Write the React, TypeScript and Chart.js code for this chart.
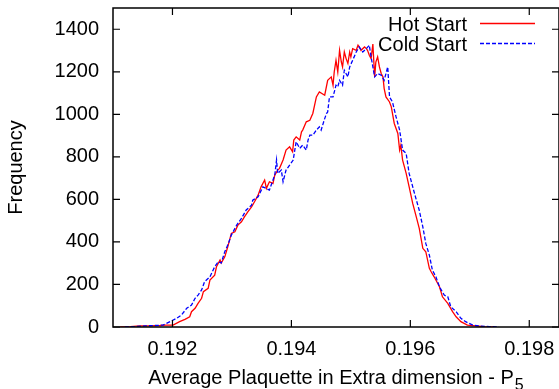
import React, { useEffect, useRef } from "react";
import { Chart, registerables } from "chart.js";

Chart.register(...registerables);

const xTicks = [0.192, 0.194, 0.196, 0.198];
const yTicks = [0, 200, 400, 600, 800, 1000, 1200, 1400];
const seriesNames = ["Hot Start", "Cold Start"];
const xTitle = "Average Plaquette in Extra dimension - P";
const xTitleSub = "5";
const yTitle = "Frequency";

// [average plaquette, frequency]
const hotStart: [number, number][] = [
  [0.19112, 0], [0.19129, 2], [0.19145, 5], [0.19162, 5], [0.19179, 7], [0.19189, 9], [0.19201, 9],
  [0.19212, 25], [0.19221, 36], [0.19229, 48], [0.19232, 72], [0.19238, 88], [0.19243, 111],
  [0.19249, 135], [0.19252, 166], [0.1926, 182], [0.19263, 221], [0.19271, 244], [0.19274, 283],
  [0.1928, 315], [0.19282, 301], [0.19288, 330], [0.19293, 377], [0.19299, 440], [0.19305, 448],
  [0.1931, 479], [0.19316, 495], [0.19321, 518], [0.19327, 542], [0.19333, 565], [0.19338, 589],
  [0.19344, 620], [0.19349, 659], [0.19355, 691], [0.19358, 652], [0.19363, 683], [0.19369, 675],
  [0.19372, 714], [0.19377, 738], [0.1938, 746], [0.19386, 785], [0.19391, 832], [0.19397, 847],
  [0.19402, 824], [0.19404, 879], [0.19408, 894], [0.19414, 879], [0.19417, 918], [0.19419, 926],
  [0.19425, 965], [0.19431, 972], [0.19436, 1004], [0.19442, 1082], [0.19447, 1105], [0.19456, 1090],
  [0.19461, 1160], [0.19467, 1176], [0.1947, 1137], [0.19472, 1199], [0.19475, 1254], [0.19478, 1199],
  [0.19481, 1301], [0.19484, 1246], [0.19486, 1223], [0.19489, 1293], [0.19492, 1262], [0.19495, 1239],
  [0.19498, 1293], [0.195, 1270], [0.19503, 1309], [0.19509, 1301], [0.19512, 1325], [0.19514, 1317],
  [0.19517, 1301], [0.19523, 1317], [0.19526, 1309], [0.19528, 1301], [0.19531, 1278], [0.19534, 1262],
  [0.19537, 1330], [0.1954, 1176], [0.19542, 1246], [0.19545, 1270], [0.19548, 1223], [0.19551, 1192],
  [0.19554, 1176], [0.19556, 1121], [0.19559, 1082], [0.19565, 1058], [0.19568, 1035], [0.19573, 957],
  [0.19579, 910], [0.19582, 832], [0.19584, 855], [0.19587, 785], [0.19593, 722], [0.19598, 659],
  [0.19604, 581], [0.1961, 518], [0.19615, 464], [0.19621, 370], [0.19626, 354], [0.19632, 276],
  [0.19635, 260], [0.1964, 236], [0.19649, 189], [0.19654, 142], [0.19663, 111], [0.19671, 72],
  [0.19677, 48], [0.19685, 25], [0.19696, 9], [0.1971, 5], [0.19724, 2], [0.19741, 0],
];

const coldStart: [number, number][] = [
  [0.1912, 0], [0.19137, 2], [0.19154, 5], [0.1917, 7], [0.19184, 9], [0.19196, 25], [0.19207, 41],
  [0.19215, 56], [0.19224, 88], [0.19232, 103], [0.19238, 135], [0.19243, 150], [0.19249, 174],
  [0.19254, 213], [0.19263, 236], [0.19271, 283], [0.19277, 307], [0.19282, 301], [0.19288, 354],
  [0.19293, 385], [0.19299, 432], [0.19308, 479], [0.19316, 511], [0.19324, 550], [0.19333, 573],
  [0.19335, 596], [0.19344, 612], [0.19352, 659], [0.19363, 644], [0.19372, 714], [0.19375, 785],
  [0.19377, 722], [0.19383, 738], [0.19386, 683], [0.19391, 738], [0.19397, 761], [0.19403, 785],
  [0.19408, 871], [0.19414, 840], [0.19419, 855], [0.19425, 832], [0.19428, 879], [0.19431, 902],
  [0.19436, 902], [0.19442, 926], [0.19447, 941], [0.1945, 926], [0.19456, 980], [0.19459, 1004],
  [0.19461, 1011], [0.19464, 1082], [0.1947, 1082], [0.19475, 1137], [0.19478, 1129], [0.19481, 1160],
  [0.19486, 1137], [0.19489, 1207], [0.19495, 1176], [0.19498, 1223], [0.19503, 1254], [0.19509, 1293],
  [0.19514, 1317], [0.1952, 1293], [0.19526, 1309], [0.19531, 1325], [0.19534, 1270], [0.1954, 1176],
  [0.19545, 1192], [0.19551, 1184], [0.19556, 1160], [0.19562, 1223], [0.19565, 1082], [0.1957, 1058],
  [0.19576, 988], [0.19582, 926], [0.19587, 832], [0.19593, 816], [0.19598, 722], [0.19601, 691],
  [0.19607, 628], [0.19615, 549], [0.19621, 471], [0.19626, 393], [0.19632, 338], [0.19637, 268],
  [0.19643, 236], [0.19649, 189], [0.19657, 150], [0.19663, 142], [0.19668, 95], [0.19677, 72],
  [0.19685, 41], [0.19693, 25], [0.19705, 9], [0.19716, 5], [0.19733, 2], [0.19749, 0],
];

const FONT = "'Liberation Sans', Arial, Helvetica, sans-serif";
const RED = "#ff0000";
const BLUE = "#0000ff";

export default function App() {
  const ref = useRef<HTMLCanvasElement>(null);

  useEffect(() => {
    if (!ref.current) return;

    const decor = {
      id: "gnuplotDecor",
      afterDatasetsDraw(chart: any) {
        const { ctx, chartArea: a, scales } = chart;
        ctx.save();
        // frame
        ctx.strokeStyle = "#000";
        ctx.lineWidth = 1.5;
        ctx.strokeRect(a.left, a.top, a.right - a.left, a.bottom - a.top);
        // inward ticks on all sides
        const tl = 7;
        ctx.lineWidth = 1.2;
        ctx.beginPath();
        xTicks.forEach((v) => {
          const x = scales.x.getPixelForValue(v);
          ctx.moveTo(x, a.bottom);
          ctx.lineTo(x, a.bottom - tl);
          ctx.moveTo(x, a.top);
          ctx.lineTo(x, a.top + tl);
        });
        yTicks.forEach((v) => {
          const y = scales.y.getPixelForValue(v);
          ctx.moveTo(a.left, y);
          ctx.lineTo(a.left + tl, y);
          ctx.moveTo(a.right, y);
          ctx.lineTo(a.right - tl, y);
        });
        ctx.stroke();

        // legend
        ctx.fillStyle = "#000";
        ctx.font = `20px ${FONT}`;
        ctx.textAlign = "right";
        ctx.textBaseline = "alphabetic";
        const legendColors = [RED, BLUE];
        const legendDash = [[], [4, 2]];
        const rows = [23.5, 43.5];
        seriesNames.forEach((name, i) => {
          ctx.fillStyle = "#000";
          ctx.fillText(name, 467, rows[i] + 7.3);
          ctx.strokeStyle = legendColors[i];
          ctx.lineWidth = 1.3;
          ctx.setLineDash(legendDash[i]);
          ctx.beginPath();
          ctx.moveTo(480, rows[i]);
          ctx.lineTo(535, rows[i]);
          ctx.stroke();
          ctx.setLineDash([]);
        });

        // x title with subscript
        ctx.fillStyle = "#000";
        ctx.textAlign = "left";
        ctx.font = `20px ${FONT}`;
        const w1 = ctx.measureText(xTitle).width;
        ctx.font = `16px ${FONT}`;
        const w2 = ctx.measureText(xTitleSub).width;
        const cx = (a.left + a.right) / 2;
        const start = cx - (w1 + w2 + 1) / 2;
        ctx.font = `20px ${FONT}`;
        ctx.fillText(xTitle, start, 384);
        ctx.font = `16px ${FONT}`;
        ctx.fillText(xTitleSub, start + w1 + 1, 390);

        // y title
        ctx.font = `20px ${FONT}`;
        ctx.textAlign = "center";
        ctx.translate(22, (a.top + a.bottom) / 2);
        ctx.rotate(-Math.PI / 2);
        ctx.fillText(yTitle, 0, 0);
        ctx.restore();
      },
    };

    const chart = new Chart(ref.current, {
      type: "line",
      data: {
        datasets: [
          {
            label: seriesNames[0],
            data: hotStart.map(([x, y]) => ({ x, y })),
            borderColor: RED,
            borderWidth: 1.3,
            pointRadius: 0,
            tension: 0,
            fill: false,
            order: 2,
          },
          {
            label: seriesNames[1],
            data: coldStart.map(([x, y]) => ({ x, y })),
            borderColor: BLUE,
            borderWidth: 1.3,
            borderDash: [4, 2],
            pointRadius: 0,
            tension: 0,
            fill: false,
            order: 1,
          },
        ],
      },
      options: {
        animation: false,
        responsive: false,
        maintainAspectRatio: false,
        layout: { padding: { left: 0, top: 8, right: 0, bottom: 0 } },
        plugins: { legend: { display: false }, tooltip: { enabled: false } },
        scales: {
          x: {
            type: "linear",
            min: 0.191,
            max: 0.1985,
            afterBuildTicks: (s: any) => {
              s.ticks = xTicks.map((v) => ({ value: v }));
            },
            afterFit: (s: any) => {
              s.height = 62;
              s.paddingLeft = 0;
              s.paddingRight = 0;
              s.paddingTop = 0;
              s.paddingBottom = 0;
            },
            grid: { display: false, drawTicks: false },
            border: { display: false },
            ticks: {
              padding: 10,
              color: "#000",
              font: { family: FONT, size: 20 },
              maxRotation: 0,
              autoSkip: false,
              callback: (v: any) => Number(v).toFixed(3),
            },
          },
          y: {
            type: "linear",
            min: 0,
            max: 1500,
            afterBuildTicks: (s: any) => {
              s.ticks = yTicks.map((v) => ({ value: v }));
            },
            afterFit: (s: any) => {
              s.width = 113;
              s.paddingLeft = 0;
              s.paddingRight = 0;
              s.paddingTop = 0;
              s.paddingBottom = 0;
            },
            grid: { display: false, drawTicks: false },
            border: { display: false },
            ticks: {
              padding: 14,
              color: "#000",
              font: { family: FONT, size: 20 },
              autoSkip: false,
              callback: (v: any) => String(v),
            },
          },
        },
      },
      plugins: [decor],
    });

    return () => chart.destroy();
  }, []);

  return (
    <div style={{ position: "fixed", left: 0, top: 0, width: 559, height: 389, background: "#fff" }}>
      <canvas ref={ref} width={559} height={389} style={{ display: "block", width: 559, height: 389 }} />
    </div>
  );
}
